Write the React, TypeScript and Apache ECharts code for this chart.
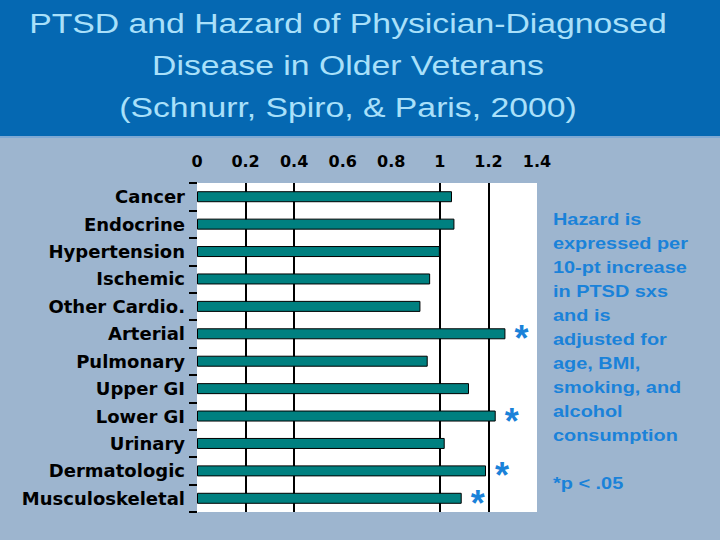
import React, { useEffect, useRef } from "react";
import * as echarts from "echarts";

const categories = [
  "Cancer",
  "Endocrine",
  "Hypertension",
  "Ischemic",
  "Other Cardio.",
  "Arterial",
  "Pulmonary",
  "Upper GI",
  "Lower GI",
  "Urinary",
  "Dermatologic",
  "Musculoskeletal",
];
const hazards = [1.05, 1.06, 1.0, 0.96, 0.92, 1.27, 0.95, 1.12, 1.23, 1.02, 1.19, 1.09];
const significant = [false, false, false, false, false, true, false, false, true, false, true, true];
const titleLines = [
  "PTSD and Hazard of Physician-Diagnosed",
  "Disease in Older Veterans",
  "(Schnurr, Spiro, & Paris, 2000)",
];
const noteLines = [
  "Hazard is",
  "expressed per",
  "10-pt increase",
  "in PTSD sxs",
  "and is",
  "adjusted for",
  "age, BMI,",
  "smoking, and",
  "alcohol",
  "consumption",
  "",
  "*p < .05",
];
const gridLineVisible = [false, true, true, false, false, true, true, false];

export default function App() {
  const ref = useRef<HTMLDivElement>(null);
  useEffect(() => {
    if (!ref.current) return;
    const chart = echarts.init(ref.current, undefined, { renderer: "svg" });
    const noteBlue = "#1a82d9";
    const titleY = [23, 65, 107];
    chart.setOption({
      animation: false,
      backgroundColor: "#9db5cf",
      graphic: [
        {
          type: "rect",
          z: -10,
          shape: { x: 0, y: 0, width: 720, height: 136 },
          style: { fill: "#0568b2" },
        },
        {
          type: "rect",
          z: -10,
          shape: { x: 0, y: 136, width: 720, height: 2 },
          style: { fill: "#7fa9d4" },
        },
        ...titleLines.map((t, i) => ({
          type: "text",
          x: 348,
          y: titleY[i],
          scaleX: 1.25,
          style: {
            text: t,
            fill: "#a9e0fa",
            font: "27px 'Liberation Sans'",
            textAlign: "center",
            textVerticalAlign: "middle",
          },
        })),
        {
          type: "text",
          x: 553,
          y: 207,
          scaleX: 1.17,
          style: {
            text: noteLines.join("\n"),
            fill: noteBlue,
            font: "bold 17px 'Liberation Sans'",
            lineHeight: 24,
          },
        },
      ],
      grid: {
        left: 197,
        right: 183,
        top: 183,
        bottom: 28,
        show: true,
        backgroundColor: "#ffffff",
        borderWidth: 0,
      },
      xAxis: {
        type: "value",
        position: "top",
        min: 0,
        max: 1.4,
        interval: 0.2,
        axisLine: { show: false },
        axisTick: { show: false },
        axisLabel: {
          margin: 14,
          color: "#000",
          fontFamily: "DejaVu Sans",
          fontWeight: "bold",
          fontSize: 16,
          formatter: (v: number) => String(Math.round(v * 10) / 10),
        },
        splitLine: {
          show: true,
          lineStyle: {
            color: gridLineVisible.map((s) => (s ? "#000000" : "rgba(0,0,0,0)")),
            width: 2,
          },
        },
      },
      yAxis: {
        type: "category",
        position: "left",
        inverse: true,
        data: categories,
        axisLine: { show: true, onZero: false, lineStyle: { color: "#ffffff", width: 1 } },
        axisTick: {
          show: true,
          length: 8,
          lineStyle: { color: "#000000", width: 2 },
        },
        axisLabel: {
          margin: 12,
          color: "#000",
          fontFamily: "DejaVu Sans",
          fontWeight: "bold",
          fontSize: 18,
        },
      },
      series: [
        {
          type: "bar",
          barWidth: 11,
          data: hazards.map((v, i) => ({
            value: v,
            label: significant[i]
              ? {
                  show: true,
                  position: "right",
                  distance: 9,
                  formatter: "*",
                  color: noteBlue,
                  fontFamily: "Liberation Sans",
                  fontWeight: "bold",
                  fontSize: 36,
                  offset: [0, 5],
                }
              : { show: false },
          })),
          itemStyle: { color: "#008080", borderColor: "#000", borderWidth: 1 },
        },
      ],
    });
    return () => chart.dispose();
  }, []);
  return (
    <div
      ref={ref}
      style={{ position: "absolute", left: 0, top: 0, width: 720, height: 540 }}
    />
  );
}
